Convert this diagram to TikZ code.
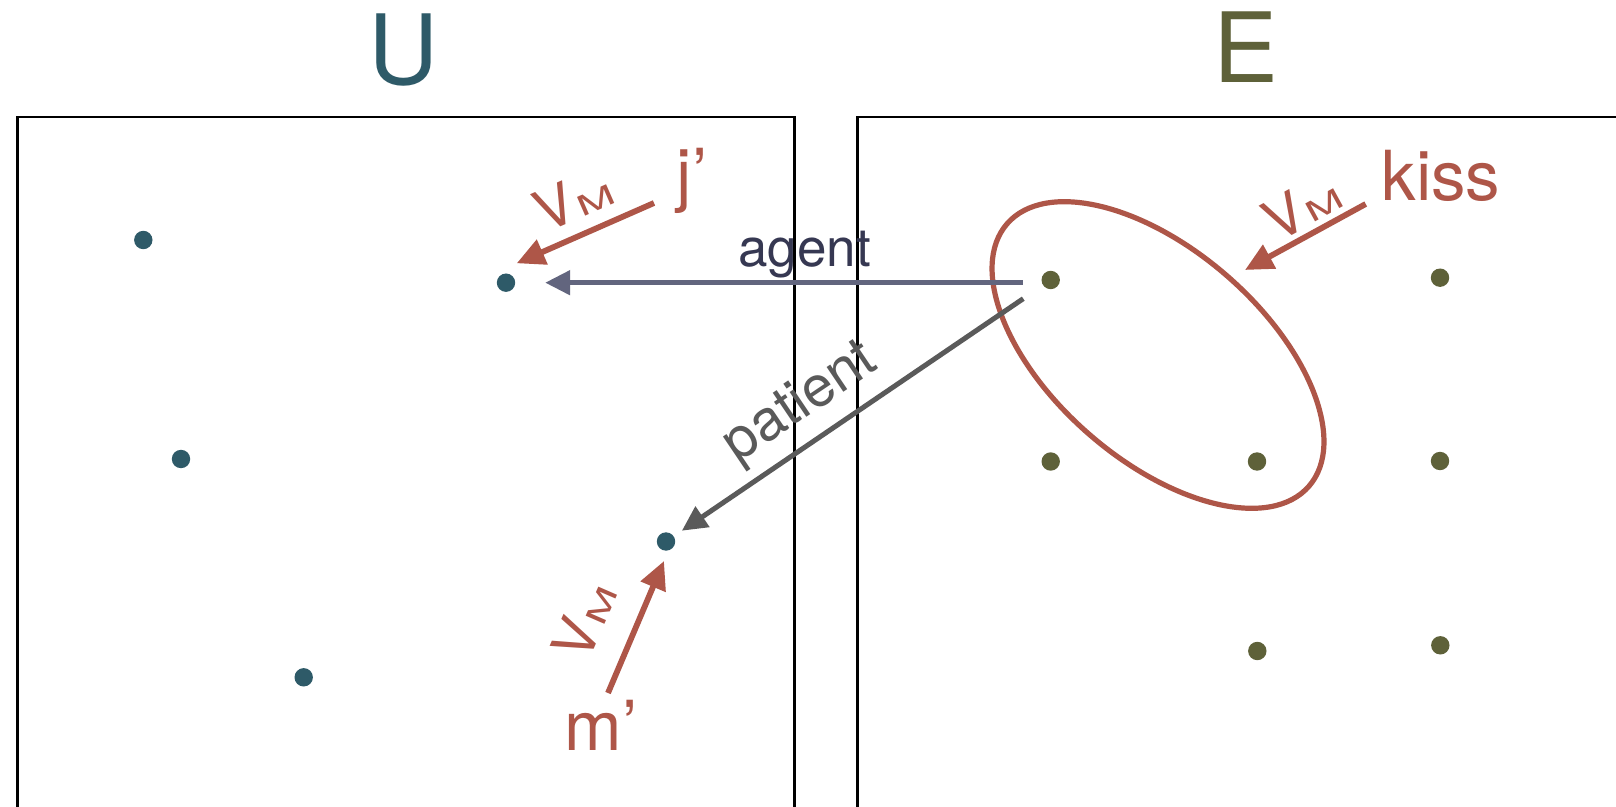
\documentclass[tikz,border=0pt]{standalone}
\usepackage{fontspec}
\setmainfont{TeX Gyre Heros}
\usetikzlibrary{arrows.meta,shapes.geometric}
\definecolor{uteal}{RGB}{46,90,104}
\definecolor{eolive}{RGB}{94,97,57}
\definecolor{vred}{RGB}{174,86,72}
\definecolor{agline}{RGB}{98,101,126}
\definecolor{agtext}{RGB}{54,56,82}
\definecolor{patgray}{RGB}{90,90,90}
\newcommand{\vmlabel}{V\kern0.04em\scalebox{1.65}[1]{\fontsize{14}{14}\selectfont M}}
\begin{document}
\begin{tikzpicture}[x=0.5pt,y=-0.5pt,
  udot/.style={circle,fill=uteal,minimum size=9.2pt,inner sep=0pt,outer sep=0pt},
  edot/.style={circle,fill=eolive,minimum size=9.2pt,inner sep=0pt,outer sep=0pt},
  frameline/.style={line width=1.4pt,draw=black},
  setname/.style={font=\fontsize{48.5}{50}\selectfont,anchor=base,inner sep=0pt},
  bigred/.style={text=vred,font=\fontsize{34.5}{36}\selectfont,anchor=base,inner sep=0pt},
  vm/.style={text=vred,font=\fontsize{28.5}{30}\selectfont,inner sep=0pt},
  rolelabel/.style={font=\fontsize{26.5}{28}\selectfont,inner sep=0pt},
  redarrow/.style={draw=vred,line width=2.9pt,-{Triangle[length=14pt,width=13pt]}},
  rolearrow/.style={line width=2.5pt,-{Triangle[length=12.5pt,width=12pt]}}
]
\useasboundingbox (0,0) rectangle (1616,807);
\clip (0,0) rectangle (1616,807);
\fill[white] (0,0) rectangle (1616,807);

% frames
\draw[frameline] (17.7,830) -- (17.7,117) -- (794.3,117) -- (794.3,830);
\draw[frameline] (857.7,830) -- (857.7,117) -- (1640,117);

% set names
\node[setname,text=uteal] (uname) at (404,85) {U};
\node[setname,text=eolive] (ename) at (1246,83) {E};

% U dots
\node[udot] (u1) at (143.3,240) {};
\node[udot] (u2) at (506,282.7) {};
\node[udot] (u3) at (181,459) {};
\node[udot] (u4) at (666,541.5) {};
\node[udot] (u5) at (303.7,677.3) {};

% E dots
\node[edot] (e1) at (1050.7,280) {};
\node[edot] (e2) at (1440,277.7) {};
\node[edot] (e3) at (1050.7,461.5) {};
\node[edot] (e4) at (1257,461.5) {};
\node[edot] (e5) at (1440,461) {};
\node[edot] (e6) at (1257.3,651) {};
\node[edot] (e7) at (1440.3,645.3) {};

% kiss set
\node[draw=vred,line width=2.6pt,ellipse,minimum width=200pt,minimum height=105pt,
      rotate=-41,inner sep=0pt] (kissset) at (1158,355) {};

% role arrows
\draw[rolearrow,draw=agline,fill=agline,shorten <=9.5pt,shorten >=15pt]
  (u2 -| e1.west) -- (u2);
\node[rolelabel,text=agtext,anchor=base] (agent) at (804.7,266.7) {agent};
\draw[rolearrow,draw=patgray,fill=patgray,shorten <=12pt,shorten >=5pt] (e1) -- (u4);
\node[rolelabel,text=patgray,font=\fontsize{28.5}{30}\selectfont,rotate=34] (patient) at (801,404) {patient};

% interpretation labels
\node[bigred] (jp) at (692,199) {j’};
\node[bigred] (kiss) at (1441,201) {kiss};
\node[bigred] (mp) at (601,750) {m’};

\coordinate (jt) at (654,203);
\coordinate (jh) at (516.7,263.3);
\coordinate (kt) at (1365.7,204);
\coordinate (kh) at (1245,270);
\coordinate (mt) at (608,693);
\coordinate (mh) at (664,561);
\draw[redarrow] (jt) -- (jh);
\draw[redarrow] (kt) -- (kh);
\draw[redarrow] (mt) -- (mh);

\node[vm,rotate=23.6] (vmj) at (573,199) {\vmlabel};
\node[vm,rotate=28.7] (vmk) at (1302,206) {\vmlabel};
\node[vm,rotate=66.5] (vmm) at (584,620) {\vmlabel};
\end{tikzpicture}
\end{document}
